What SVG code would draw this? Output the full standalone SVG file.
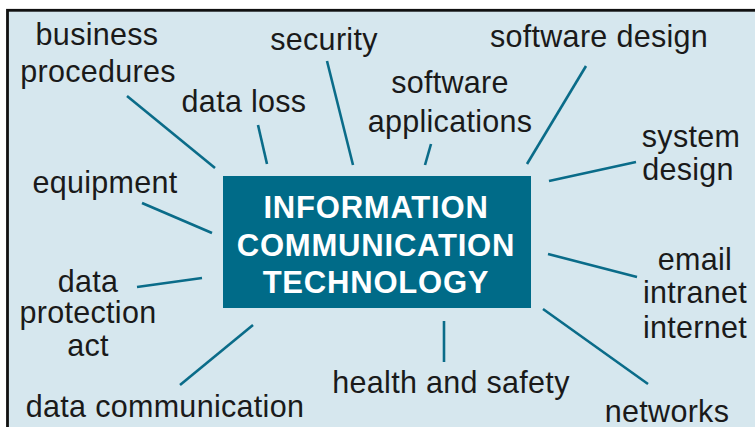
<svg xmlns="http://www.w3.org/2000/svg" width="755" height="427" viewBox="0 0 755 427">
<style>
.lbl{font-family:"Liberation Sans",Arial,sans-serif;font-size:30.5px;fill:#1a1a1a;text-anchor:middle;letter-spacing:0.3px}
.hub{font-family:"Liberation Sans",Arial,sans-serif;font-size:31px;font-weight:bold;fill:#ffffff;text-anchor:middle;letter-spacing:0.8px}
.ln{stroke:#0a6c89;stroke-width:2.6;fill:none}
</style>
<rect x="0" y="0" width="755" height="427" fill="#ffffff"/>
<rect x="7.5" y="10.3" width="760" height="430" fill="#d6e7ee" stroke="#111" stroke-width="2.8"/>
<g id="connectors">
<line class="ln" x1="127" y1="96" x2="215" y2="168"/>
<line class="ln" x1="258" y1="125" x2="267" y2="164"/>
<line class="ln" x1="327" y1="61" x2="353" y2="165"/>
<line class="ln" x1="431" y1="144" x2="425" y2="165"/>
<line class="ln" x1="586" y1="66" x2="527" y2="164"/>
<line class="ln" x1="549" y1="181" x2="636" y2="162"/>
<line class="ln" x1="142" y1="203" x2="212" y2="233"/>
<line class="ln" x1="137" y1="287" x2="202" y2="278"/>
<line class="ln" x1="180" y1="385" x2="253" y2="325"/>
<line class="ln" x1="444" y1="321" x2="444" y2="362"/>
<line class="ln" x1="548" y1="254" x2="637" y2="277"/>
<line class="ln" x1="543" y1="309" x2="648" y2="384"/>
</g>
<g id="hub">
<rect x="223" y="176" width="308" height="132" fill="#006b88"/>
<text class="hub" x="376" y="218">INFORMATION</text>
<text class="hub" x="376" y="256">COMMUNICATION</text>
<text class="hub" x="376" y="293">TECHNOLOGY</text>
</g>
<g id="business-procedures"><text class="lbl" x="97" y="45">business</text><text class="lbl" x="98" y="82">procedures</text></g>
<g id="data-loss"><text class="lbl" x="244" y="112">data loss</text></g>
<g id="security"><text class="lbl" x="324" y="50">security</text></g>
<g id="software-applications"><text class="lbl" x="450" y="93">software</text><text class="lbl" x="450" y="132">applications</text></g>
<g id="software-design"><text class="lbl" x="599" y="47">software design</text></g>
<g id="system-design"><text class="lbl" x="691" y="147">system</text><text class="lbl" x="688" y="180">design</text></g>
<g id="equipment"><text class="lbl" x="105" y="193">equipment</text></g>
<g id="email-intranet-internet"><text class="lbl" x="695" y="270">email</text><text class="lbl" x="695" y="303">intranet</text><text class="lbl" x="695" y="338">internet</text></g>
<g id="data-protection-act"><text class="lbl" x="88" y="292">data</text><text class="lbl" x="88" y="323">protection</text><text class="lbl" x="88" y="356">act</text></g>
<g id="health-and-safety"><text class="lbl" x="451" y="393">health and safety</text></g>
<g id="data-communication"><text class="lbl" x="165" y="417">data communication</text></g>
<g id="networks"><text class="lbl" x="667" y="422">networks</text></g>
</svg>
